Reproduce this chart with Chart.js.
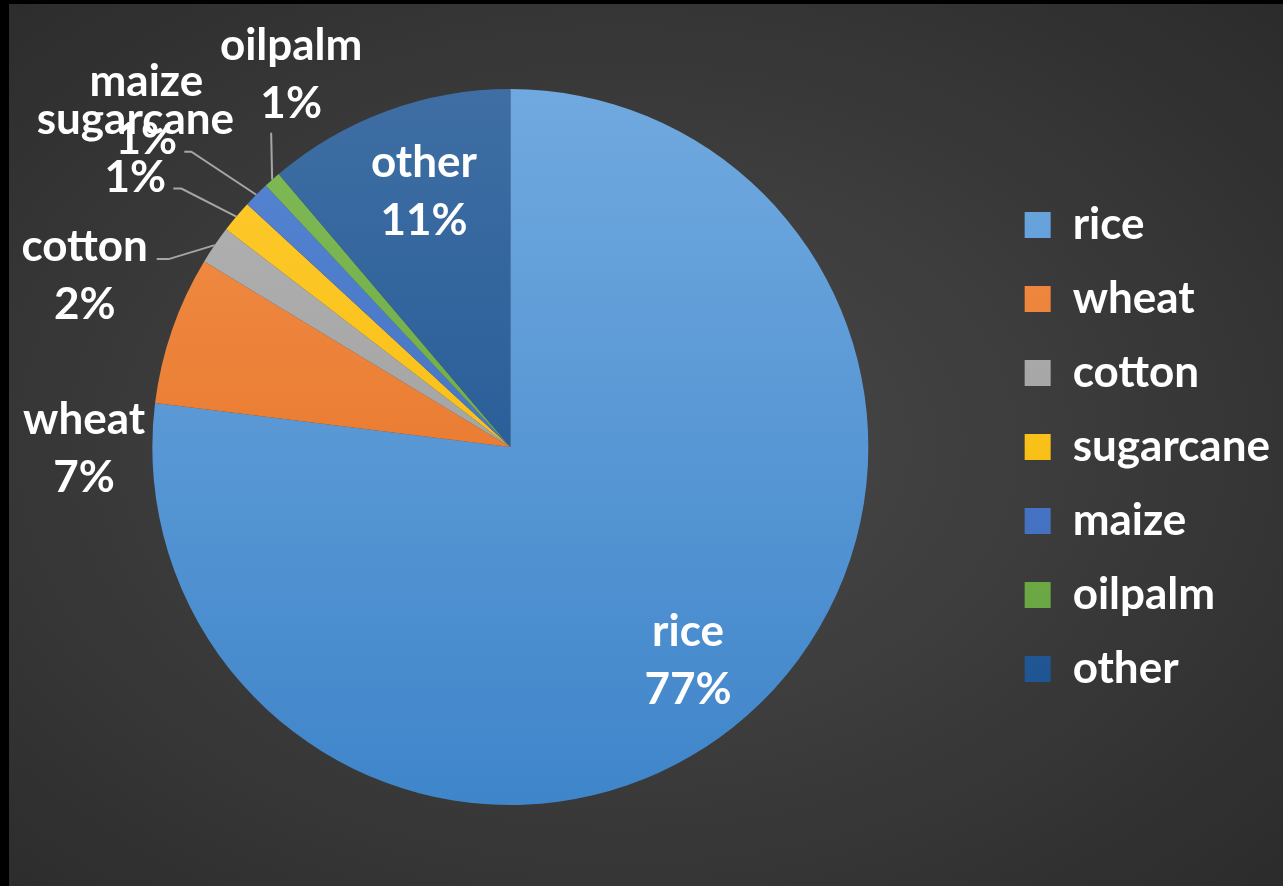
<!DOCTYPE html>
<html>
<head>
<meta charset="utf-8">
<script src="https://cdn.jsdelivr.net/npm/chart.js@4/dist/chart.umd.min.js"></script>
<style>
  html, body { margin: 0; padding: 0; background: #000; overflow: hidden; }
  #panel {
    position: absolute; left: 9px; top: 4px; width: 1274px; height: 882px;
    background: radial-gradient(ellipse 75% 75% at 48% 50%, #4a4a4a 0%, #3c3c3c 45%, #2a2a2a 100%);
  }
</style>
</head>
<body>
<div id="panel"><canvas id="myChart"></canvas></div>
<script>
// crop shares
const crops = ['rice', 'wheat', 'cotton', 'sugarcane', 'maize', 'oilpalm', 'other'];
const shares = [76.96, 6.71, 1.73, 1.46, 1.17, 0.77, 11.2];

// slice colours, lighter at the top of the pie, darker at the bottom
const lightColors = ['#70a9df', '#f4914c', '#b4b4b4', '#ffcb30', '#5686d3', '#80bb56', '#3e6ea3'];
const darkColors  = ['#3f85ca', '#e0691a', '#959595', '#f2b600', '#3965b7', '#629f3c', '#185090'];

const FONT = 'Lato, "Open Sans", sans-serif';

// where each data label goes: inside the slice, or outside with an offset from the rim
const labelSpots = {
    rice:      { inside: 0.775, dx: -6, dy: 6 },
    other:     { inside: 0.765, dx: 8, dy: 2 },
    wheat:     { dx: -88, dy: 119 },
    cotton:    { dx: -130, dy: 31, leader: [[-46, 14], [-58, 14]] },
    sugarcane: { dx: -101, dy: -68, leader: [[-55, -28], [-63, -28]] },
    maize:     { dx: -110, dy: -84, leader: [[-65, -43], [-72, -43]] },
    oilpalm:   { dx: 19, dy: -105, leader: [[-1, -47]] }
};

const shade = (i, chart) => {
    const a = chart.chartArea;
    if (!a) return darkColors[i];
    const g = chart.ctx.createLinearGradient(0, a.top, 0, a.bottom);
    g.addColorStop(0, lightColors[i]);
    g.addColorStop(1, darkColors[i]);
    return g;
};

const pieLabels = {
    id: 'pieLabels',
    afterDatasetsDraw(chart) {
        const ctx = chart.ctx;
        const meta = chart.getDatasetMeta(0);
        const total = shares.reduce((s, v) => s + v, 0);
        ctx.save();
        ctx.font = 'bold 44px ' + FONT;
        ctx.fillStyle = '#ffffff';
        ctx.textAlign = 'center';
        ctx.textBaseline = 'middle';
        meta.data.forEach((arc, i) => {
            const p = arc.getProps(['x', 'y', 'startAngle', 'endAngle', 'outerRadius'], true);
            const mid = (p.startAngle + p.endAngle) / 2;
            const spot = labelSpots[crops[i]];
            const pct = Math.round(shares[i] / total * 100) + '%';
            let cx, cy;
            if (spot.inside) {
                cx = p.x + Math.cos(mid) * p.outerRadius * spot.inside + spot.dx;
                cy = p.y + Math.sin(mid) * p.outerRadius * spot.inside + spot.dy;
            } else {
                const ex = p.x + Math.cos(mid) * p.outerRadius;
                const ey = p.y + Math.sin(mid) * p.outerRadius;
                cx = ex + spot.dx;
                cy = ey + spot.dy;
                if (spot.leader) {
                    ctx.beginPath();
                    ctx.moveTo(ex, ey);
                    spot.leader.forEach(([lx, ly]) => ctx.lineTo(ex + lx, ey + ly));
                    ctx.strokeStyle = '#a6a6a6';
                    ctx.lineWidth = 2;
                    ctx.stroke();
                }
            }
            ctx.fillText(crops[i], cx, cy - 29);
            ctx.fillText(pct, cx, cy + 29);
        });
        ctx.restore();
    }
};

const data = {
    labels: crops,
    datasets: [{
        data: shares,
        backgroundColor: (c) => shade(c.dataIndex, c.chart),
        borderWidth: 0
    }]
};

const config = {
    type: 'pie',
    data: data,
    options: {
        responsive: true,
        maintainAspectRatio: false,
        animation: false,
        layout: {
            padding: { left: 17, right: 3, top: 85, bottom: 81 }
        },
        plugins: {
            legend: {
                position: 'right',
                labels: {
                    color: '#ffffff',
                    font: { family: FONT, size: 44, weight: 'bold' },
                    boxWidth: 26,
                    boxHeight: 26,
                    padding: 30
                }
            },
            tooltip: { enabled: false }
        }
    },
    plugins: [pieLabels]
};

const ctx = document.getElementById('myChart').getContext('2d');
const myChart = new Chart(ctx, config);
</script>
</body>
</html>
